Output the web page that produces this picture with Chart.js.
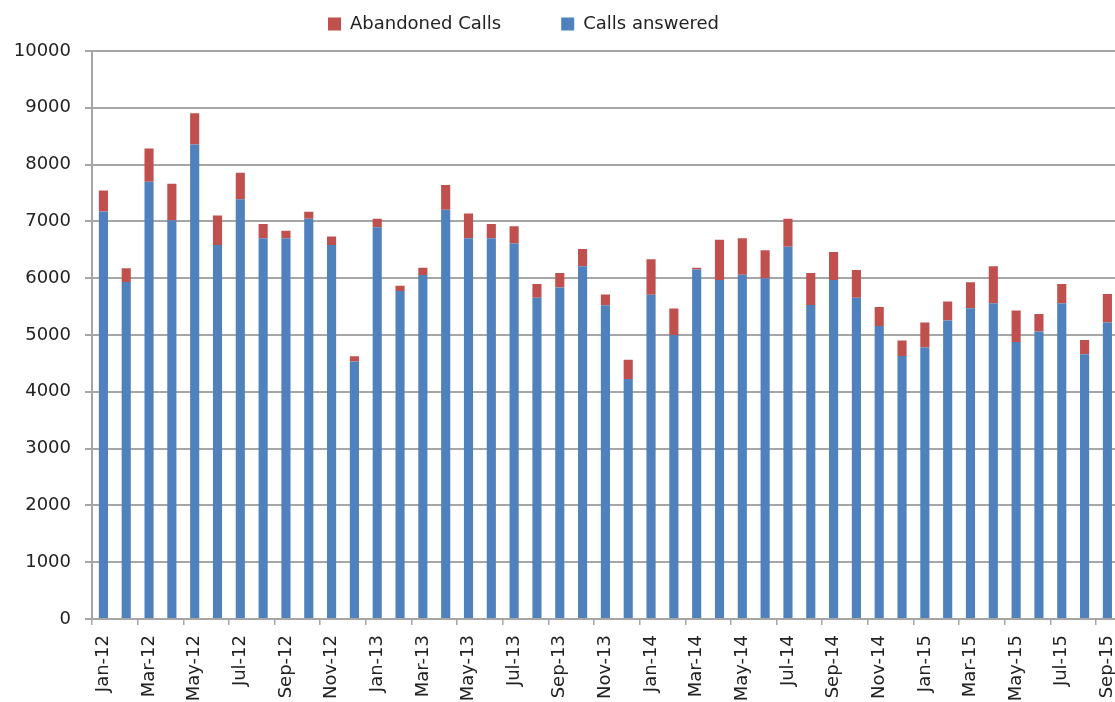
<!DOCTYPE html>
<html>
<head>
<meta charset="utf-8">
<script src="https://cdn.jsdelivr.net/npm/chart.js@4/dist/chart.umd.min.js"></script>
<style>
  html, body { margin: 0; padding: 0; background: #fff; overflow: hidden; }
  #wrap { width: 1139px; height: 702px; }
</style>
</head>
<body>
<div id="wrap"><canvas id="chart"></canvas></div>
<script>
const months = [
  'Jan-12','Feb-12','Mar-12','Apr-12','May-12','Jun-12','Jul-12','Aug-12','Sep-12','Oct-12','Nov-12','Dec-12',
  'Jan-13','Feb-13','Mar-13','Apr-13','May-13','Jun-13','Jul-13','Aug-13','Sep-13','Oct-13','Nov-13','Dec-13',
  'Jan-14','Feb-14','Mar-14','Apr-14','May-14','Jun-14','Jul-14','Aug-14','Sep-14','Oct-14','Nov-14','Dec-14',
  'Jan-15','Feb-15','Mar-15','Apr-15','May-15','Jun-15','Jul-15','Aug-15','Sep-15'
];

const callsAnswered = [
  7175, 5935, 7700, 7020, 8355, 6585, 7390, 6705, 6705, 7045, 6585, 4535,
  6895, 5775, 6055, 7205, 6705, 6705, 6610, 5655, 5835, 6210, 5525, 4225,
  5710, 5000, 6155, 5970, 6060, 6000, 6555, 5530, 5970, 5655, 5160, 4630,
  4780, 5255, 5470, 5560, 4875, 5060, 5560, 4660, 5220
];

const abandonedCalls = [
  370, 240, 585, 645, 550, 520, 465, 250, 130, 125, 150, 90,
  150, 90, 130, 435, 435, 250, 305, 245, 255, 305, 190, 340,
  625, 465, 30, 705, 645, 490, 490, 560, 490, 490, 335, 275,
  440, 335, 460, 650, 555, 310, 340, 250, 500
];

const gridGray = '#a6a6a6';
const fontFamily = "'DejaVu Sans', Verdana, sans-serif";

// Excel puts the legend a bit left of canvas centre and higher than chart.js does
const legendShift = {
  id: 'legendShift',
  afterLayout(chart){
    const lg = chart.legend;
    if(!lg) return;
    const dx = -46, dy = -8;
    lg.left += dx;
    lg.right += dx;
    lg.top += dy;
    lg.bottom += dy;
  }
};

const ctx = document.getElementById('chart').getContext('2d');
const chart = new Chart(ctx, {
  type: 'bar',
  data: {
    labels: months,
    datasets: [
      {
        label: 'Calls answered',
        data: callsAnswered,
        backgroundColor: '#4f81bd',
        barPercentage: 0.4,
        categoryPercentage: 1.0
      },
      {
        label: 'Abandoned Calls',
        data: abandonedCalls,
        backgroundColor: '#c0504d',
        barPercentage: 0.4,
        categoryPercentage: 1.0
      }
    ]
  },
  options: {
    responsive: true,
    maintainAspectRatio: false,
    animation: false,
    layout: { padding: { top: -37, right: 0, left: 0, bottom: 0 } },
    plugins: {
      legend: {
        position: 'top',
        reverse: true,
        labels: {
          boxWidth: 13,
          boxHeight: 13,
          padding: 60,
          color: '#222',
          font: { family: fontFamily, size: 18 }
        }
      },
      tooltip: { enabled: false }
    },
    scales: {
      x: {
        stacked: true,
        afterFit(scale){ scale.height = 83; },
        border: { color: gridGray, width: 2 },
        grid: {
          offset: true,
          drawOnChartArea: false,
          tickLength: 6,
          lineWidth: 1.5,
          color: c => (c.index % 2 === 0 ? gridGray : 'rgba(0,0,0,0)')
        },
        ticks: {
          autoSkip: false,
          minRotation: 90,
          maxRotation: 90,
          color: '#222',
          padding: 10,
          font: { family: fontFamily, size: 18 },
          callback(v, i){ return i % 2 === 0 ? months[i] : ''; }
        }
      },
      y: {
        stacked: true,
        min: 0,
        max: 10000,
        afterFit(scale){ scale.width = 92; },
        border: { color: gridGray, width: 2 },
        grid: {
          color: gridGray,
          lineWidth: 2,
          tickLength: 7
        },
        ticks: {
          stepSize: 1000,
          color: '#222',
          padding: 14,
          font: { family: fontFamily, size: 18 },
          callback: v => String(v)
        }
      }
    }
  },
  plugins: [legendShift]
});
</script>
</body>
</html>
